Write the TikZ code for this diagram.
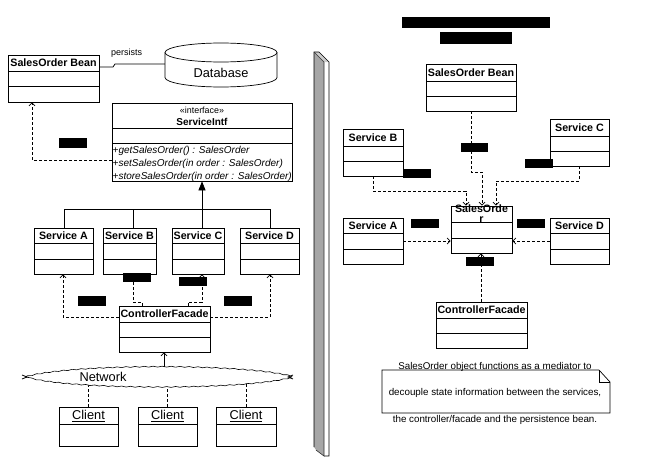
\documentclass[tikz,border=0pt]{standalone}
\usepackage{fontspec}
\setmainfont{Liberation Sans}
\usetikzlibrary{arrows.meta,fit,decorations.pathmorphing}

\tikzset{
  classbox/.style={draw, line width=0.7pt, inner sep=0pt, fill=white},
  classline/.style={line width=0.7pt},
  classtitle/.style={font=\fontsize{10.7}{11}\selectfont\bfseries, inner sep=0pt, align=center},
  objtitle/.style={font=\fontsize{12.8}{14}\selectfont, inner sep=0pt},
  method/.style={font=\fontsize{10}{11}\selectfont\itshape, inner sep=0pt, anchor=west},
  opentip/.style={-{Straight Barb[length=3pt,width=6pt,line width=0.8pt]}},
  depline/.style={line width=0.6pt, dash pattern=on 3pt off 2pt},
  dep/.style={depline, opentip},
  inherit/.style={line width=0.7pt},
  redact/.style={fill=black},
  notetext/.style={font=\fontsize{9.8}{11}\selectfont, inner sep=0pt},
}

\newcommand\umlclass[8]{%
  \node[classbox, fit={(#2,#3) (#4,#5)}] (#1) {};
  \draw[classline] (#2,#6) -- (#4,#6);
  \draw[classline] (#2,#7) -- (#4,#7);
  \node[classtitle] (#1-t) at ({(#2+#4)/2},{(#3+#6)/2}) {#8};
}
\newcommand\umlobj[6]{%
  \node[classbox, fit={(#2,#3) (#4,#5)}] (#1) {};
  \draw[classline] (#2,#6) -- (#4,#6);
  \node[objtitle] (#1-t) at ({(#2+#4)/2},{(#3+#6)/2+0.5}) {\underline{Client}};
}

\begin{document}
\begin{tikzpicture}[x=1pt,y=-1pt]
\useasboundingbox[fill=white] (0,0) rectangle (664,463);

% ---------------- left side ----------------
\umlclass{bean}{8}{55}{99}{102}{71}{86}{SalesOrder Bean}

% database cylinder
\node[inner sep=0pt, fit={(165,43) (277,87)}] (db) {};
\draw[classline, fill=white] (165,52.5) -- (165,77.5)
   arc[start angle=180, end angle=360, x radius=56pt, y radius=9.5pt]
   -- (277,52.5) arc[start angle=0, end angle=180, x radius=56pt, y radius=9.5pt] -- cycle;
\draw[classline] (165,52.5) arc[start angle=180, end angle=360, x radius=56pt, y radius=9.5pt];
\node[font=\fontsize{12.8}{14}\selectfont, inner sep=0pt] (dbtext) at (221,73) {Database};

\draw[classline] (bean.east |- 0,67) -- (113,67) -- (115,64) -- (db.west |- 0,64);
\node[font=\fontsize{9}{10}\selectfont, inner sep=0pt, anchor=west] (persists) at (111,53) {persists};

% interface
\node[classbox, fit={(112,103) (292,181)}] (intf) {};
\draw[classline] (112,128) -- (292,128);
\draw[classline] (112,143) -- (292,143);
\node[font=\fontsize{8.9}{10}\selectfont, inner sep=0pt] (stereo) at (202,110) {«interface»};
\node[font=\fontsize{10}{11}\selectfont\bfseries, inner sep=0pt] (intfname) at (202,122) {ServiceIntf};
\node[method] (m1) at (112.5,151) {+getSalesOrder() : SalesOrder};
\node[method] (m2) at (112.5,164) {+setSalesOrder(in order : SalesOrder)};
\node[method] (m3) at (112.5,177) {+storeSalesOrder(in order : SalesOrder)};

% services
\umlclass{svcA}{34}{228}{93}{274}{243}{259}{Service A}
\umlclass{svcB}{103}{228}{156}{274}{243}{259}{Service B}
\umlclass{svcC}{172}{228}{224}{274}{243}{259}{Service C}
\umlclass{svcD}{240}{228}{299}{274}{243}{259}{Service D}

% inheritance
\coordinate (junc) at (202,209);
\draw[inherit] (svcA.north -| 64,0) -- (64,209) -- (270,209) -- (svcD.north -| 270,0);
\draw[inherit] (svcB.north -| 133,0) -- (133,209);
\draw[inherit] (svcC.north -| 202,0) -- (junc);
\draw[inherit, -{Triangle[length=9pt,width=7pt]}] (junc) -- (intf.south -| 202,0);

% controller facade
\umlclass{cf}{119}{306}{210}{352}{322}{337}{ControllerFacade}

% dependencies
\draw[dep] (intf.west |- 0,160) -| (bean.south -| 32,0);
\draw[dep] (cf.west |- 0,317) -| (svcA.south -| 63,0);
\draw[dep] (cf.east |- 0,317) -| (svcD.south -| 270,0);
\draw[dep] (cf.north -| 142,0) -- (142,302) -| (svcB.south -| 133,0);
\draw[dep] (cf.north -| 188,0) -- (188,302) -| (svcC.south -| 202,0);

% redacted labels
\fill[redact] (59,138) rectangle (87,148);
\fill[redact] (123,273) rectangle (151,282);
\fill[redact] (179,277) rectangle (207,286);
\fill[redact] (78,296) rectangle (106,306);
\fill[redact] (224,296) rectangle (252,306);

% clients
\umlobj{cl1}{59}{407}{118}{446}{424}
\umlobj{cl2}{138}{407}{197}{446}{424}
\umlobj{cl3}{216}{407}{276}{446}{424}
\draw[depline] (cl1.north -| 88,0) -- (88,382);
\draw[depline] (cl2.north -| 167,0) -- (167,382);
\draw[depline] (cl3.north -| 246,0) -- (246,382);

% network cloud
\path[draw, fill=white, line width=0.6pt, decorate,
      decoration={snake, amplitude=0.45pt, segment length=9pt}]
  (25,377) .. controls (70,364) and (245,364) .. (290,377)
           .. controls (245,390) and (70,390) .. (25,377) -- cycle;
\draw[line width=0.8pt] (22,375) -- (27,377) -- (22,379);
\draw[line width=0.8pt] (293,375) -- (288,377) -- (293,379);
\node[font=\fontsize{12.8}{14}\selectfont, inner sep=0pt] (net) at (103,376.5) {Network};
\coordinate (nettop) at (164,367);
\draw[line width=0.7pt, opentip] (nettop) -- (cf.south -| 164,0);

% ---------------- separator bar ----------------
\fill[gray!70] (314,52) -- (324,62) -- (324,456) -- (316,450) -- (314,447) -- cycle;
\fill[gray!40] (314,52) -- (319,52) -- (329,62) -- (324,62) -- cycle;
\draw[line width=0.7pt] (314,447) -- (314,52) -- (319,52) -- (329,62) -- (329,456) -- (324,456);
\draw[line width=0.6pt, gray!40!black] (314,52) -- (324,62) -- (324,456) -- (316,450);

% ---------------- right side ----------------
\fill[redact] (402,17) rectangle (550,28);
\fill[redact] (440,32) rectangle (512,44);

\umlclass{rbean}{426}{64}{516}{111}{81}{96}{SalesOrder Bean}
\umlclass{rsvcB}{343}{129}{403}{176}{146}{161}{Service B}
\umlclass{rsvcC}{550}{119}{609}{166}{136}{151}{Service C}
\umlclass{rso}{451}{206}{512}{253}{222}{238}{SalesOrde\\[-1pt]r}
\umlclass{rsvcA}{343}{218}{403}{264}{233}{249}{Service A}
\umlclass{rsvcD}{550}{218}{609}{264}{233}{249}{Service D}
\umlclass{rcf}{436}{302}{527}{348}{318}{333}{ControllerFacade}

\draw[dep] (rbean.south -| 471,0) -- (471,172) -| (rso.north -| 482,0);
\draw[dep] (rsvcB.south -| 373,0) -- (373,191) -| (rso.north -| 466,0);
\draw[dep] (rsvcC.south -| 579,0) -- (579,181) -| (rso.north -| 496,0);
\draw[dep] (rsvcA.east |- 0,241) -- (rso.west |- 0,241);
\draw[dep] (rsvcD.west |- 0,241) -- (rso.east |- 0,241);
\draw[dep] (rcf.north -| 481,0) -- (rso.south -| 481,0);

\fill[redact] (461,143) rectangle (488,152);
\fill[redact] (403,169) rectangle (431,178);
\fill[redact] (525,159) rectangle (553,168);
\fill[redact] (411,219) rectangle (439,228);
\fill[redact] (517,219) rectangle (545,228);
\fill[redact] (466,257) rectangle (494,266);

% note
\node[inner sep=0pt, fit={(382,370) (610,413)}] (note) {};
\draw[line width=0.7pt] (382,370) -- (599,370) -- (610,382) -- (610,413) -- (382,413) -- cycle;
\draw[line width=0.7pt] (599,370) -- (599,382) -- (610,382);
\node[notetext] (n1) at (495,366.5) {SalesOrder object functions as a mediator to};
\node[notetext] (n2) at (495,393) {decouple state information between the services,};
\node[notetext] (n3) at (495,420) {the controller/facade and the persistence bean.};
\end{tikzpicture}
\end{document}
